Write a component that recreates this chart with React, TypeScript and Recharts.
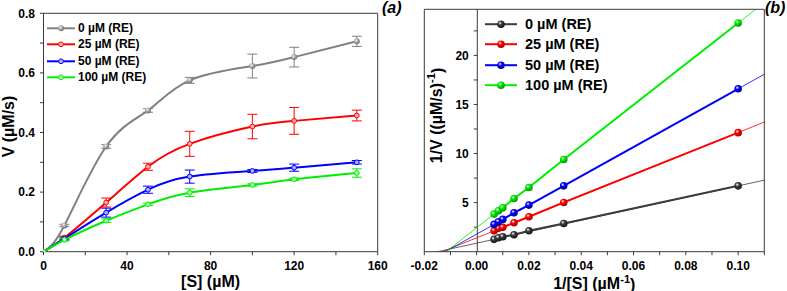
import React from 'react';
import { LineChart, Line, XAxis, YAxis, ErrorBar, Legend } from 'recharts';

const FONT = '"Liberation Sans", Arial, Helvetica, sans-serif';

// ---------- Panel (a): V vs [S] ----------
const substrateA = [0, 10, 30, 50, 70, 100, 120, 150];
const vRE0 = [0, 0.088, 0.353, 0.474, 0.575, 0.623, 0.653, 0.706];
const vRE25 = [0, 0.047, 0.165, 0.285, 0.362, 0.42, 0.439, 0.457];
const vRE50 = [0, 0.044, 0.131, 0.208, 0.252, 0.271, 0.282, 0.3];
const vRE100 = [0, 0.04, 0.104, 0.159, 0.198, 0.224, 0.243, 0.264];
const errRE0 = [0, 0.004, 0.006, 0.006, 0.01, 0.04, 0.033, 0.017];
const errRE25 = [0, 0.005, 0.015, 0.012, 0.042, 0.041, 0.045, 0.018];
const errRE50 = [0, 0.005, 0.015, 0.012, 0.022, 0.005, 0.012, 0.006];
const errRE100 = [0, 0.004, 0.006, 0.004, 0.013, 0.004, 0.004, 0.014];
const seriesNames = ['0 µM (RE)', '25 µM (RE)', '50 µM (RE)', '100 µM (RE)'];

// ---------- Panel (b): 1/V vs 1/[S] ----------
const invS = [0.00667, 0.00833, 0.01, 0.01429, 0.02, 0.0333, 0.1];
const invV0 = [1.26, 1.42, 1.52, 1.73, 2.13, 2.88, 6.71];
const invV25 = [2.13, 2.38, 2.48, 2.95, 3.56, 5.02, 12.13];
const invV50 = [2.78, 3.05, 3.29, 3.97, 4.75, 6.71, 16.6];
const invV100 = [3.83, 4.17, 4.47, 5.42, 6.54, 9.39, 23.3];
const fitX = [-0.0155, 0.11];
const fit0 = [-0.035, 7.29];
const fit25 = [-0.25, 13.21];
const fit50 = [-0.51, 18.08];
const fit100 = [-0.79, 25.39];

// ---------- Tick labels ----------
const xTicksA = [0, 20, 40, 60, 80, 100, 120, 140, 160];
const yTicksA = [0, 0.1, 0.2, 0.3, 0.4, 0.5, 0.6, 0.7, 0.8];
const rTicksA = [1, 2, 3, 4, 5, 6, 7, 8, 9];
const xTicksB = [-0.02, -0.01, 0, 0.01, 0.02, 0.03, 0.04, 0.05, 0.06, 0.07, 0.08, 0.09, 0.1, 0.11];
const yTicksB = [2.5, 5, 7.5, 10, 12.5, 15, 17.5, 20, 22.5];

const colorsA = ['#808080', '#ff0000', '#0000ff', '#00ee00'];
const colorsB = ['#3c3c3c', '#ff0000', '#0000ff', '#00ee00'];
const lightA = ['#e8e8e8', '#ffb0b0', '#b0b0ff', '#b0ffb0'];
const darkB = ['#111111', '#a00000', '#00008a', '#008a00'];

const toPts = (xs: number[], ys: number[], es?: number[]) =>
  xs.map((x, i) => ({ x, y: ys[i], e: es ? es[i] : 0 }));

const dataA = [
  toPts(substrateA, vRE0, errRE0),
  toPts(substrateA, vRE25, errRE25),
  toPts(substrateA, vRE50, errRE50),
  toPts(substrateA, vRE100, errRE100),
];
const dataB = [invV0, invV25, invV50, invV100].map((v) => toPts(invS, v));
const fitsB = [fit0, fit25, fit50, fit100].map((f) => toPts(fitX, f));

const tickFont = { fontSize: 12, fontWeight: 'bold', fill: '#000', fontFamily: FONT } as any;
const AX = '#3a3a3a';

const AxisTitle = (props: any) => {
  const { viewBox, main, sup, tail = '', vertical, dx = 0, dy = 0, size = 16, raise = 0.4 } = props;
  if (!viewBox) return null;
  const cx = viewBox.x + viewBox.width / 2 + dx;
  const cy = viewBox.y + viewBox.height / 2 + dy;
  return (
    <text
      x={cx}
      y={cy}
      textAnchor="middle"
      dominantBaseline="central"
      fontFamily={FONT}
      fontWeight="bold"
      fontSize={size}
      fill="#000"
      transform={vertical ? `rotate(-90, ${cx}, ${cy})` : undefined}
    >
      {main}
      {sup ? (
        <tspan dy={-size * raise} fontSize={size * 0.7}>
          {sup}
        </tspan>
      ) : null}
      {sup ? <tspan dy={size * raise}>{tail}</tspan> : tail}
    </text>
  );
};

const Defs = () => (
  <defs>
    {colorsB.map((c, i) => (
      <radialGradient key={'b' + i} id={'ballB' + i} cx="38%" cy="35%" r="70%">
        <stop offset="0%" stopColor="#ffffff" />
        <stop offset="35%" stopColor={c} />
        <stop offset="100%" stopColor={darkB[i]} />
      </radialGradient>
    ))}
    <radialGradient id="ballA0" cx="38%" cy="35%" r="70%">
      <stop offset="0%" stopColor="#f4f4f4" />
      <stop offset="45%" stopColor="#a8a8a8" />
      <stop offset="100%" stopColor="#6a6a6a" />
    </radialGradient>
  </defs>
);

const markerA = (i: number, cx: number, cy: number) =>
  i === 0 ? (
    <circle cx={cx} cy={cy} r={3} fill="url(#ballA0)" />
  ) : (
    <circle cx={cx} cy={cy} r={2.4} fill={lightA[i]} stroke={colorsA[i]} strokeWidth={1} />
  );
const markerB = (i: number, cx: number, cy: number) => (
  <circle cx={cx} cy={cy} r={3.8} fill={'url(#ballB' + i + ')'} />
);

const LegendContent = (props: any) => {
  const { payload, lineW, gap, rowH, fontSize, marker } = props;
  const items = seriesNames
    .map((n) => (payload || []).find((p: any) => p.value === n))
    .filter(Boolean);
  return (
    <div style={{ fontFamily: FONT, fontWeight: 'bold', fontSize, color: '#000' }}>
      {items.map((p: any, i: number) => (
        <div key={i} style={{ display: 'flex', alignItems: 'center', height: rowH, whiteSpace: 'nowrap' }}>
          <svg width={lineW} height={rowH} style={{ display: 'block', overflow: 'visible' }}>
            <line x1={0} x2={lineW} y1={rowH / 2} y2={rowH / 2} stroke={p.color} strokeWidth={2} />
            {marker(i, lineW / 2, rowH / 2)}
          </svg>
          <span style={{ marginLeft: gap, lineHeight: rowH + 'px' }}>{p.value}</span>
        </div>
      ))}
    </div>
  );
};

const PanelA = () => (
  <LineChart width={400} height={291} margin={{ top: 13.3, right: 22.3, bottom: 0, left: 0 }}>
    <Defs />
    <XAxis
      dataKey="x"
      type="number"
      domain={[0, 160]}
      allowDataOverflow
      ticks={xTicksA}
      interval={0}
      tickFormatter={(v: number) => (v % 40 === 0 ? String(v) : '')}
      tick={tickFont}
      tickSize={3.5}
      tickMargin={6.5}
      height={39.3}
      stroke={AX}
      label={<AxisTitle main="[S] (µM)" dy={10} />}
    />
    <XAxis
      xAxisId="top"
      orientation="top"
      mirror
      type="number"
      domain={[0, 160]}
      allowDataOverflow
      ticks={xTicksA}
      interval={0}
      tick={false}
      tickSize={3.5}
      stroke={AX}
    />
    <YAxis
      type="number"
      domain={[0, 0.8]}
      allowDataOverflow
      ticks={yTicksA}
      interval={0}
      tickFormatter={(v: number) => (Math.round(v * 10) % 2 === 0 ? v.toFixed(1) : '')}
      tick={tickFont}
      tickSize={3.5}
      tickMargin={5}
      width={43.5}
      stroke={AX}
      label={<AxisTitle main="V (µM/s)" vertical dx={-13.5} dy={-6} />}
    />
    <YAxis
      yAxisId="r"
      orientation="right"
      mirror
      type="number"
      domain={[0.13, 10]}
      allowDataOverflow
      ticks={rTicksA}
      interval={0}
      tick={false}
      tickSize={3.5}
      stroke={AX}
    />
    {dataA.map((d, i) => (
      <Line
        key={i}
        data={d}
        dataKey="y"
        name={seriesNames[i]}
        type="natural"
        stroke={colorsA[i]}
        strokeWidth={2}
        dot={i === 0 ? { r: 3, fill: 'url(#ballA0)', stroke: 'none' } : { r: 2.4, fill: lightA[i], stroke: colorsA[i], strokeWidth: 1 }}
        activeDot={false}
        isAnimationActive={false}
      >
        <ErrorBar dataKey="e" direction="y" width={5} stroke={colorsA[i]} strokeWidth={1} />
      </Line>
    ))}
    <Legend
      layout="vertical"
      align="center"
      verticalAlign="middle"
      wrapperStyle={{ left: 47, top: 19.5, width: 'auto' }}
      content={(p: any) => (
        <LegendContent payload={p.payload} lineW={28} gap={3} rowH={16.6} fontSize={12} marker={markerA} />
      )}
    />
  </LineChart>
);

const PanelB = () => (
  <LineChart width={407} height={291} margin={{ top: 9.3, right: 22.7, bottom: 0, left: 0 }}>
    <Defs />
    <XAxis
      dataKey="x"
      type="number"
      domain={[-0.02, 0.11]}
      allowDataOverflow
      ticks={xTicksB}
      interval={0}
      tickFormatter={(v: number) => (Math.round(v * 100) % 2 === 0 ? v.toFixed(2) : '')}
      tick={tickFont}
      tickSize={3.5}
      tickMargin={6.5}
      height={39.3}
      stroke={AX}
      label={<AxisTitle main="1/[S] (µM" sup="-1" tail=")" dy={12.5} raise={0.3} />}
    />
    <XAxis
      xAxisId="top"
      orientation="top"
      mirror
      type="number"
      domain={[-0.02, 0.11]}
      allowDataOverflow
      ticks={xTicksB}
      interval={0}
      tick={false}
      tickSize={3.5}
      stroke={AX}
    />
    <YAxis
      type="number"
      domain={[0, 24.7]}
      allowDataOverflow
      tick={false}
      tickLine={false}
      width={44.3}
      stroke={AX}
    />
    <YAxis
      yAxisId="r"
      orientation="right"
      mirror
      type="number"
      domain={[0, 24.7]}
      allowDataOverflow
      ticks={yTicksB}
      interval={0}
      tick={false}
      tickSize={3.5}
      stroke={AX}
    />
    {fitsB.map((d, i) => (
      <Line
        key={'fit' + i}
        data={d}
        dataKey="y"
        type="linear"
        stroke={colorsB[i]}
        strokeWidth={0.8}
        dot={false}
        activeDot={false}
        legendType="none"
        isAnimationActive={false}
      />
    ))}
    {dataB.map((d, i) => (
      <Line
        key={'d' + i}
        data={d}
        dataKey="y"
        name={seriesNames[i]}
        type="linear"
        stroke={colorsB[i]}
        strokeWidth={2}
        dot={{ r: 3.8, fill: 'url(#ballB' + i + ')', stroke: 'none' }}
        activeDot={false}
        isAnimationActive={false}
      />
    ))}
    <Legend
      layout="vertical"
      align="center"
      verticalAlign="middle"
      wrapperStyle={{ left: 105, top: 14, width: 'auto' }}
      content={(p: any) => (
        <LegendContent payload={p.payload} lineW={32} gap={8} rowH={20.4} fontSize={14.5} marker={markerB} />
      )}
    />
  </LineChart>
);

// y axis drawn at x = 0 of panel (b)
const PanelBAxis = () => (
  <LineChart width={407} height={291} data={[]} margin={{ top: 9.3, right: 22.7, bottom: 39.3, left: 0 }}>
    <XAxis type="number" dataKey="x" domain={[0, 0.11]} allowDataOverflow hide />
    <YAxis
      type="number"
      domain={[0, 24.7]}
      allowDataOverflow
      ticks={yTicksB}
      interval={0}
      tickFormatter={(v: number) => (v % 5 === 0 ? String(v) : '')}
      tick={tickFont}
      tickSize={3.5}
      tickMargin={5}
      width={97.3}
      stroke={AX}
      label={<AxisTitle main="1/V ((µM/s)" sup="-1" tail=")" vertical dx={8.3} dy={-15} />}
    />
  </LineChart>
);

export default function App() {
  return (
    <div style={{ position: 'absolute', left: 0, top: 0, width: 787, height: 291, background: '#fff', fontFamily: FONT, overflow: 'hidden' }}>
      <div style={{ position: 'absolute', left: 0, top: 0 }}>
        <PanelA />
      </div>
      <div style={{ position: 'absolute', left: 380, top: 0 }}>
        <PanelBAxis />
      </div>
      <div style={{ position: 'absolute', left: 380, top: 0 }}>
        <PanelB />
      </div>
      <div style={{ position: 'absolute', left: 382, top: -1, fontSize: 16, fontWeight: 'bold', fontStyle: 'italic', lineHeight: '18px' }}>(a)</div>
      <div style={{ position: 'absolute', left: 765, top: -1, fontSize: 16, fontWeight: 'bold', fontStyle: 'italic', lineHeight: '18px' }}>(b)</div>
    </div>
  );
}
